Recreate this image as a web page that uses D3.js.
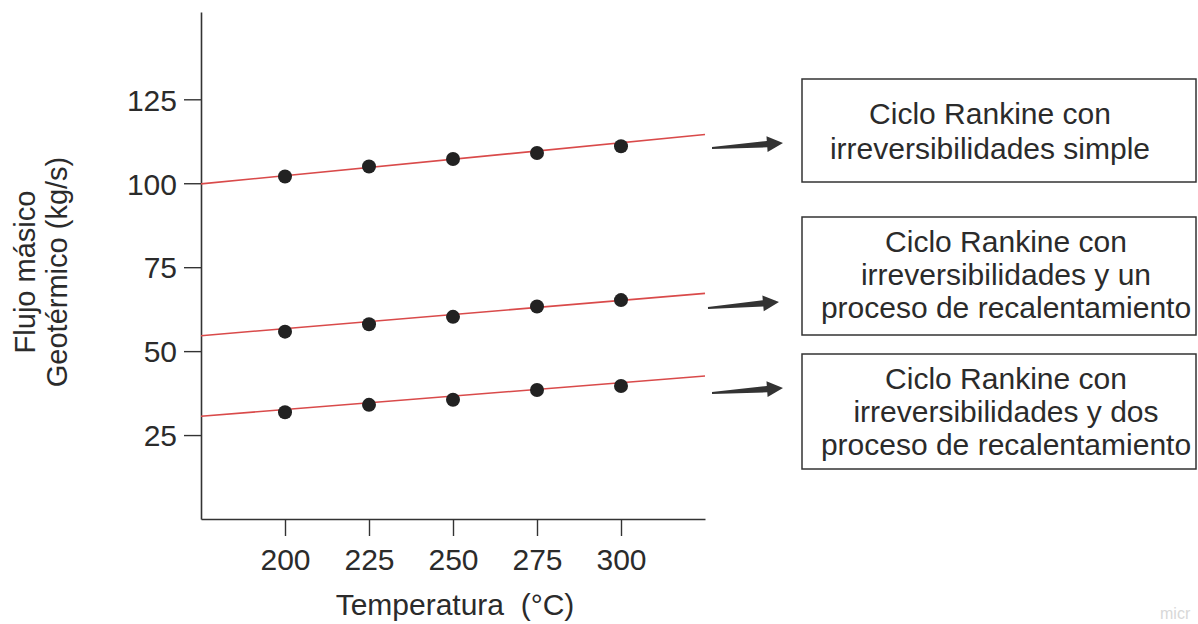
<!DOCTYPE html>
<html><head><meta charset="utf-8">
<script src="https://cdn.jsdelivr.net/npm/d3@7"></script>
<style>
html,body{margin:0;padding:0;background:#fff;}
text{font-family:"Liberation Sans",Arial,Helvetica,sans-serif;fill:#2b2b2b;}
</style></head>
<body><svg id="chart" width="1198" height="624"></svg>
<script>
// ---- data ----
const temperatures = [200, 225, 250, 275, 300];
const xTicks = [200, 225, 250, 275, 300];
const yTicks = [25, 50, 75, 100, 125];
const seriesSimple = [102, 105, 107.2, 109, 111];
const seriesUnRecal = [55.8, 58, 60.2, 63.3, 65.2];
const seriesDosRecal = [31.8, 34, 35.5, 38.4, 39.6];
// trend line values at the two ends of the x axis (175 and 325)
const trendEnds = [175, 325];
const trendSimple = [99.8, 114.5];
const trendUnRecal = [54.6, 67.2];
const trendDosRecal = [30.6, 42.6];
const labels = [
  ["Ciclo Rankine con", "irreversibilidades simple"],
  ["Ciclo Rankine con", "irreversibilidades y un", "proceso de recalentamiento"],
  ["Ciclo Rankine con", "irreversibilidades y dos", "proceso de recalentamiento"]
];
const xTitle = "Temperatura\u00a0\u00a0(°C)";
const yTitle = ["Flujo másico", "Geotérmico (kg/s)"];

// ---- layout ----
const svg = d3.select("#chart");
const x = d3.scaleLinear().domain([175, 325]).range([201, 705]);
const y = d3.scaleLinear().domain([0, 151]).range([519, 12]);
const axisColor = "#333";
const fs = 30;

// axes
const gx = svg.append("g").attr("transform", "translate(0,519)")
  .call(d3.axisBottom(x).tickValues(xTicks).tickSize(17).tickSizeOuter(0).tickPadding(13).tickFormat(d3.format("d")));
const gy = svg.append("g").attr("transform", "translate(201,0)")
  .call(d3.axisLeft(y).tickValues(yTicks).tickSize(17).tickSizeOuter(0).tickPadding(7).tickFormat(d3.format("d")));
[gx, gy].forEach(g => {
  g.select(".domain").attr("stroke", axisColor).attr("stroke-width", 1.6);
  g.selectAll(".tick line").attr("stroke", axisColor).attr("stroke-width", 1.4);
  g.selectAll(".tick text").attr("font-size", fs).attr("fill", "#2b2b2b")
    .attr("font-family", "Liberation Sans, Arial, sans-serif");
});
gx.selectAll(".tick text").attr("dy", "0.71em");
gy.selectAll(".tick text").attr("dy", "0.36em");

// axis titles
svg.append("text").attr("x", 455).attr("y", 615).attr("text-anchor", "middle")
  .attr("font-size", fs).text(xTitle);
const yt = svg.append("g");
yTitle.forEach((t, i) => {
  yt.append("text").attr("transform", `translate(${35 + i * 32},272) rotate(-90)`)
    .attr("text-anchor", "middle").attr("font-size", 29).text(t);
});

// series
const allSeries = [
  {vals: seriesSimple, trend: trendSimple},
  {vals: seriesUnRecal, trend: trendUnRecal},
  {vals: seriesDosRecal, trend: trendDosRecal}
];
const line = d3.line().x(d => x(d[0])).y(d => y(d[1]));
allSeries.forEach(s => {
  svg.append("path").datum(trendEnds.map((t, i) => [t, s.trend[i]]))
    .attr("d", line).attr("fill", "none").attr("stroke", "#d94a4a").attr("stroke-width", 1.6);
});
allSeries.forEach(s => {
  svg.append("g").selectAll("circle").data(temperatures.map((t, i) => [t, s.vals[i]]))
    .join("circle").attr("cx", d => x(d[0])).attr("cy", d => y(d[1])).attr("r", 7)
    .attr("fill", "#222");
});

// arrows
const arrows = [
  {x1: 712, y1: 148, x2: 783, y2: 143},
  {x1: 708, y1: 308, x2: 779, y2: 302},
  {x1: 712, y1: 393, x2: 783, y2: 388}
];
arrows.forEach(a => {
  const dx = a.x2 - a.x1, dy = a.y2 - a.y1;
  const L = Math.hypot(dx, dy), ang = Math.atan2(dy, dx) * 180 / Math.PI;
  const h = L - 16;
  const pts = [[0, -0.9], [h, -3.2], [h, -8], [L, 0], [h, 8], [h, 3.2], [0, 0.9]];
  svg.append("polygon").attr("points", pts.map(p => p.join(",")).join(" "))
    .attr("transform", `translate(${a.x1},${a.y1}) rotate(${ang})`).attr("fill", "#333");
});

// boxes
const boxes = [
  {x: 802, y: 79, w: 394, h: 103, cx: 990, base: 124, lh: 35},
  {x: 802, y: 217, w: 394, h: 118, cx: 1006, base: 252, lh: 33},
  {x: 802, y: 354, w: 394, h: 115, cx: 1006, base: 389, lh: 33}
];
boxes.forEach((b, i) => {
  svg.append("rect").attr("x", b.x).attr("y", b.y).attr("width", b.w).attr("height", b.h)
    .attr("fill", "none").attr("stroke", "#333").attr("stroke-width", 1.5);
  labels[i].forEach((t, j) => {
    svg.append("text").attr("x", b.cx).attr("y", b.base + j * b.lh)
      .attr("text-anchor", "middle").attr("font-size", fs).text(t);
  });
});

// faint watermark
svg.append("text").attr("x", 1160).attr("y", 619).attr("font-size", 16)
  .style("fill", "#d8d8d8").text("micr");
</script></body></html>
